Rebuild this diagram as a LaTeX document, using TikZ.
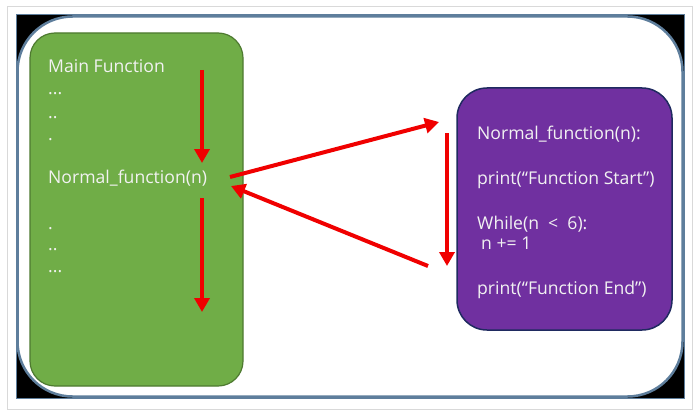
\documentclass[tikz,border=0pt]{standalone}
\usepackage{fontspec}
\setmainfont{Open Sans}
\usetikzlibrary{arrows.meta}
\definecolor{gfill}{HTML}{70AD47}
\definecolor{gdraw}{HTML}{4E7A30}
\definecolor{pfill}{HTML}{7030A0}
\definecolor{pdraw}{HTML}{1F2A60}
\definecolor{frameedge}{HTML}{5E7E9C}
\definecolor{txt}{HTML}{F2F2F2}
\definecolor{arr}{HTML}{F00000}
\tikzset{
  lbl/.style={anchor=base west, inner sep=0pt, text=txt, font=\fontsize{17.6}{20}\selectfont},
  redarrow/.style={draw=arr, line width=4pt, -{Triangle[width=15pt,length=14pt]}},
}
\begin{document}
\begin{tikzpicture}[x=1pt,y=-1pt]
\useasboundingbox (0,0) rectangle (700,417);
\fill[white] (0,0) rectangle (700,417);
% outer frame
\draw[black!15, line width=1pt] (7,7) rectangle (692,409);
\fill[black] (16,15) rectangle (684,398);
\draw[frameedge, line width=1pt] (16,15) rectangle (684,398);
\draw[frameedge, line width=2.5pt, fill=white, rounded corners=55pt] (17.5,16.5) rectangle (682.5,396.5);
% boxes
\draw[gdraw, fill=gfill, line width=1.2pt, rounded corners=25pt] (30,33) rectangle (243,386);
\draw[pdraw, fill=pfill, line width=1.5pt, rounded corners=30pt] (457,88) rectangle (672,330);
% green texts
\node[lbl] (m1) at (48,73) {Main Function};
\node[lbl] (m2) at (48,95) {...};
\node[lbl] (m3) at (48,118) {..};
\node[lbl] (m4) at (48,140) {.};
\node[lbl] (nf) at (48,183) {Normal\_function(n)};
\node[lbl] (m5) at (48,229) {.};
\node[lbl] (m6) at (48,250) {..};
\node[lbl] (m7) at (48,272) {...};
% purple texts
\node[lbl] (p1) at (477,139) {Normal\_function(n):};
\node[lbl] (p2) at (477,184) {print(“Function Start”)};
\node[lbl] (p3) at (477,229) {While(n\ \ <\ \ 6):};
\node[lbl] (p4) at (481,249) {n += 1};
\node[lbl] (p5) at (477,294) {print(“Function End”)};
% arrow coordinates
\coordinate (a1s) at (202,70);
\coordinate (a1e) at (202,163);
\coordinate (a2s) at (202,198);
\coordinate (a2e) at (202,312);
\coordinate (a3s) at (230,177);
\coordinate (a3e) at (439,122);
\coordinate (a4s) at (428,266);
\coordinate (a4e) at (231,186);
\coordinate (a5s) at (447,133);
\coordinate (a5e) at (447,266);
\draw[redarrow] (a1s) -- (a1e);
\draw[redarrow] (a2s) -- (a2e);
\draw[redarrow] (a3s) -- (a3e);
\draw[redarrow] (a4s) -- (a4e);
\draw[redarrow] (a5s) -- (a5e);
\end{tikzpicture}
\end{document}
